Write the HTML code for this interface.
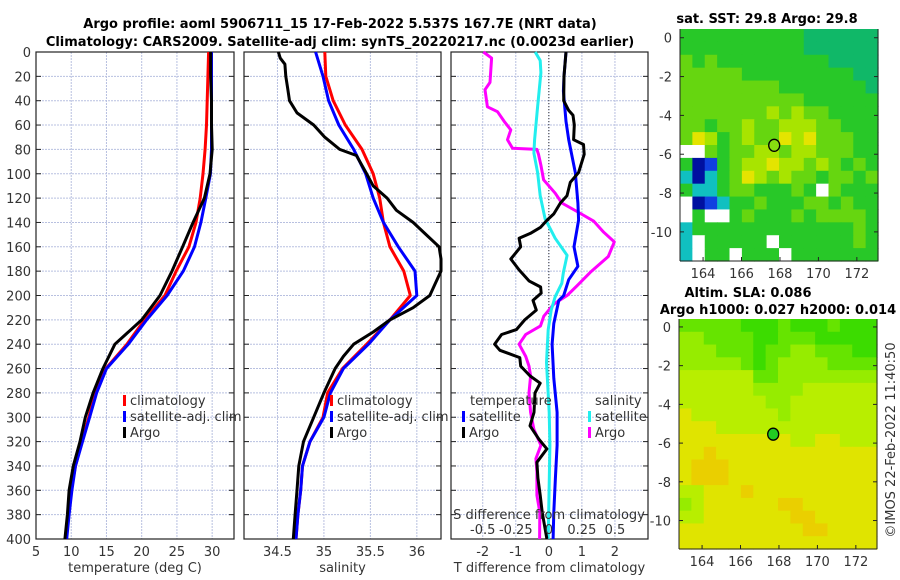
<!DOCTYPE html>
<html><head><meta charset="utf-8">
<style>
html,body{margin:0;padding:0;background:#fff;}
svg{display:block;font-family:"DejaVu Sans","Liberation Sans",sans-serif;}
.t{font-size:13px;fill:#333;}
.b{font-weight:bold;font-size:13px;fill:#000;}
</style></head>
<body>
<svg id="c" width="900" height="580" viewBox="0 0 900 580" xmlns="http://www.w3.org/2000/svg">
<text class="b" x="340" y="28" text-anchor="middle">Argo profile: aoml 5906711_15 17-Feb-2022 5.537S 167.7E (NRT data)</text>
<text class="b" x="340" y="46" text-anchor="middle">Climatology: CARS2009. Satellite-adj clim: synTS_20220217.nc (0.0023d earlier)</text>
<text class="b" x="767" y="23" text-anchor="middle">sat. SST: 29.8 Argo: 29.8</text>
<text class="b" x="748" y="297" text-anchor="middle">Altim. SLA: 0.086</text>
<text class="b" x="778" y="314" text-anchor="middle">Argo h1000: 0.027 h2000: 0.014</text>
<text class="t" transform="translate(895,440) rotate(-90)" text-anchor="middle">©IMOS 22-Feb-2022 11:40:50</text>
</svg>
<script>
// ---- data ----
const depthTicks=[0,20,40,60,80,100,120,140,160,180,200,220,240,260,280,300,320,340,360,380,400];
const tempTicks=[5,10,15,20,25,30];
const salTicks=[34.5,35,35.5,36];
const tdiffTicks=[-2,-1,0,1,2];
const sdiffTicks=[-0.5,-0.25,0,0.25,0.5];
const sdiffLabels=["-0.5","-0.25","0","0.25","0.5"];
const clDepth=[0,20,40,60,80,100,120,140,160,180,200,220,240,260,280,300,320,340,360,380,400];
const tempClim=[29.5,29.4,29.3,29.2,29.0,28.7,28.3,27.7,26.7,24.9,23.3,20.4,17.9,14.9,13.4,12.5,11.5,10.6,10.0,9.6,9.3];
const tempSat=[29.9,29.9,29.9,29.9,29.9,29.75,29.1,28.4,27.5,25.9,23.6,20.7,18.1,15.0,13.6,12.6,11.6,10.6,10.1,9.7,9.35];
const tempArgo=[29.8,29.8,29.9,29.9,30.0,29.7,28.9,27.3,25.8,24.3,22.6,20.0,16.2,14.5,13.1,12.0,11.25,10.3,9.7,9.45,9.1];
const salClim=[35.01,35.02,35.10,35.23,35.41,35.53,35.60,35.64,35.71,35.86,35.93,35.71,35.46,35.2,35.04,34.99,34.85,34.77,34.75,34.72,34.70];
const salSat=[34.91,34.99,35.05,35.16,35.32,35.45,35.53,35.64,35.80,35.98,36.0,35.71,35.48,35.21,35.07,35.0,34.85,34.77,34.75,34.72,34.70];
const argoSalDepth=[0,5,10,20,30,40,50,60,70,80,85,100,110,120,130,140,150,160,170,180,190,200,210,220,230,240,250,260,280,300,320,340,360,380,400];
const salArgo=[34.51,34.53,34.58,34.59,34.61,34.63,34.71,34.89,35.01,35.17,35.35,35.46,35.53,35.68,35.78,35.96,36.1,36.24,36.26,36.26,36.2,36.14,35.96,35.71,35.53,35.32,35.21,35.12,35.0,34.89,34.78,34.73,34.71,34.69,34.67];
const sArgoDiffDepth=[0,5,25,31,45,49,57,64,72,79,80,84,93,105,116,124,131,139,148,156,168,181,192,200,207,217,225,232,235,240,250,258,266,280,296,310,323,334,345,364,378,400];
const sArgoDiff=[-0.495,-0.433,-0.445,-0.483,-0.465,-0.388,-0.338,-0.288,-0.313,-0.275,-0.09,-0.078,-0.06,-0.04,0.048,0.098,0.213,0.34,0.415,0.495,0.45,0.313,0.213,0.138,0.038,-0.038,-0.063,-0.175,-0.193,-0.225,-0.175,-0.15,-0.138,-0.15,-0.138,-0.113,-0.06,-0.098,-0.09,-0.09,-0.068,-0.07];
const sSatDiffDepth=[0,7,17,45,72,83,99,118,137,153,167,181,190,201,212,228,255,296,323,400];
const sSatDiff=[-0.103,-0.065,-0.06,-0.085,-0.108,-0.113,-0.085,-0.065,-0.028,0.048,0.138,0.11,0.098,0.048,0.018,-0.005,-0.018,0.003,0.008,-0.005];
const tSatDiffDepth=[0,20,32,57,72,99,124,138,160,176,187,200,204,223,240,268,296,323,350,378,400];
const tSatDiff=[0.52,0.46,0.44,0.52,0.6,0.8,0.88,0.9,0.76,0.88,0.6,0.45,0.3,0.15,0.1,0.15,0.25,0.25,0.2,0.15,0.13];
const tArgoDiffDepth=[0,20,40,48,52,60,72,76,84,99,107,118,124,133,138,144,149,153,160,170,179,188,193,198,204,212,220,228,232,240,245,251,258,266,272,280,296,307,318,326,337,350,364,378,400];
const tArgoDiff=[0.52,0.46,0.45,0.6,0.73,0.77,0.75,1.05,1.07,0.9,0.65,0.55,0.35,0.15,-0.05,-0.25,-0.56,-0.9,-0.85,-1.15,-0.9,-0.6,-0.25,-0.23,-0.48,-0.38,-0.73,-0.98,-1.43,-1.64,-1.48,-0.88,-0.85,-0.57,-0.26,-0.42,-0.45,-0.57,-0.3,-0.06,-0.36,-0.33,-0.26,-0.2,-0.06];
const lonTicks=[164,166,168,170,172];
const latTicks=[0,-2,-4,-6,-8,-10];
const argoLon=167.7, argoLat=-5.54;
const sstGrid=[
"ggggggggggtttttt","ggggggggggtttttt","GgGgggggggggtttt","GGGGGgggggggggtt",
"GGGGGGGGgggggggt","GGGGGGGGGGgggggg","GGGGGGGyGyGGgggg","GGgGGyGGyyyGGggg",
"GYygGyGGYyYGGGgg","wwGgGGyyGyyGGGgg","gbBgGyyYyyGyGgGg","cbcgGYyGyGGgGGgG",
"gccgGGgggGgwGggg","wbBcggGgggGGgGgg","wgwwgGgggGgGGGGg","cgggggggggggggGg",
"cwgggggwggggggGg","cwggwgggwggggggg"];
const slaGrid=[
"2222211121112111","3322221122211111","3332221223322211","3333321233332222",
"4444442233333333","4444443333444444","4444444334444444","5444444434444444",
"5554444444444444","5555555554455444","5565555555555555","5666555555555555",
"5666555555555555","4455565555555555","3455555566555555","4455555556655555",
"5555555555665555","5555555555555555"];
const sstColors={g:"#28c828",t:"#10b868",G:"#66d610",y:"#a8e400",Y:"#e4e400",b:"#0010a0",B:"#1040e0",c:"#10c0c0",w:"#ffffff"};
const slaColors={"1":"#3cdc00","2":"#66e400","3":"#96ec00","4":"#b8ee00","5":"#e0e400","6":"#eacf00"};

// ---- drawing ----
const svg=document.getElementById('c');
const NS="http://www.w3.org/2000/svg";
function mk(tag,attrs,parent){const e=document.createElementNS(NS,tag);for(const k in attrs)e.setAttribute(k,attrs[k]);(parent||svg).appendChild(e);return e;}
const Y0=52,Y1=539;
function yD(d){return Y0+d*(Y1-Y0)/400;}

function panel(name,x0,x1,dmin,dmax,ticks,labels,xlabel,showY){
  const g=mk('g',{});
  
  
  const sx=v=>x0+(v-dmin)*(x1-x0)/(dmax-dmin);
  depthTicks.forEach(d=>{
    const l=mk('line',{x1:x0,x2:x1,y1:yD(d),y2:yD(d),stroke:'#b8c0e0','stroke-width':1,'stroke-dasharray':'2,1'},g);
    
    
    mk('line',{x1:x0,x2:x0+5,y1:yD(d),y2:yD(d),stroke:'#222'},g);
    mk('line',{x1:x1-5,x2:x1,y1:yD(d),y2:yD(d),stroke:'#222'},g);
    if(showY){const t=mk('text',{x:x0-5,y:yD(d)+5,'text-anchor':'end',class:'t'},g);t.textContent=d;
      
      }
  });
  ticks.forEach((v,i)=>{
    const x=sx(v);
    const l=mk('line',{x1:x,x2:x,y1:Y0,y2:Y1,stroke:'#b8c0e0','stroke-width':1,'stroke-dasharray':'2,1'},g);
    
    
    const t=mk('text',{x:x,y:556,'text-anchor':'middle',class:'t'},g);t.textContent=labels?labels[i]:v;
    
    
  });
  const r=mk('rect',{x:x0,y:Y0,width:x1-x0,height:Y1-Y0,fill:'none',stroke:'#222','stroke-width':1.2},g);
  
  
  const xt=mk('text',{x:(x0+x1)/2,y:572,'text-anchor':'middle',class:'t'},g);xt.textContent=xlabel;
  
  
  return {g,sx};
}
function line(p,vals,depths,color,name,scale){
  const pts=vals.map((v,i)=>p.sx(v*(scale||1)).toFixed(1)+','+yD(depths[i]).toFixed(1)).join(' ');
  const e=mk('polyline',{points:pts,fill:'none',stroke:color,'stroke-width':3,'stroke-linejoin':'round'},p.g);
  
  
}
function legend(p,x,y,color,label,name){
  mk('rect',{x:x,y:y-10,width:3,height:11,fill:color},p.g);
  const t=mk('text',{x:x+7,y:y,class:'t'},p.g);t.textContent=label;
  
  
}

const p1=panel('temperature',36,234,5,33.1,tempTicks,null,'temperature (deg C)',true);
line(p1,tempClim,clDepth,'#ff0000','temp-climatology-line');
line(p1,tempSat,clDepth,'#0000ff','temp-satellite-line');
line(p1,tempArgo,clDepth,'#000000','temp-argo-line');
legend(p1,123,405,'#ff0000','climatology','legend-climatology');
legend(p1,123,421,'#0000ff','satellite-adj. clim','legend-satellite-adj');
legend(p1,123,437,'#000000','Argo','legend-argo');

const p2=panel('salinity',244,441,34.14,36.26,salTicks,null,'salinity',false);
line(p2,salClim,clDepth,'#ff0000','sal-climatology-line');
line(p2,salSat,clDepth,'#0000ff','sal-satellite-line');
line(p2,salArgo,argoSalDepth,'#000000','sal-argo-line');
legend(p2,330,405,'#ff0000','climatology','legend-climatology-sal');
legend(p2,330,421,'#0000ff','satellite-adj. clim','legend-satellite-adj-sal');
legend(p2,330,437,'#000000','Argo','legend-argo-sal');

const p3=panel('difference',451,648,-2.96,3.0,tdiffTicks,null,'T difference from climatology',false);
const zl=mk('line',{x1:p3.sx(0),x2:p3.sx(0),y1:Y0,y2:Y1,stroke:'#333','stroke-width':1,'stroke-dasharray':'1,2'},p3.g);


line(p3,sArgoDiff,sArgoDiffDepth,'#ff00ff','sal-argo-diff-line',4);
line(p3,sSatDiff,sSatDiffDepth,'#22eeee','sal-satellite-diff-line',4);
line(p3,tSatDiff,tSatDiffDepth,'#0000ff','temp-satellite-diff-line');
line(p3,tArgoDiff,tArgoDiffDepth,'#000000','temp-argo-diff-line');
{const t=mk('text',{x:470,y:405,class:'t'},p3.g);t.textContent='temperature';


const s=mk('text',{x:595,y:405,class:'t'},p3.g);s.textContent='salinity';

}
legend(p3,462,421,'#0000ff','satellite','legend-temp-satellite');
legend(p3,462,437,'#000000','Argo','legend-temp-argo');
legend(p3,588,421,'#22eeee','satellite','legend-sal-satellite');
legend(p3,588,437,'#ff00ff','Argo','legend-sal-argo');
{const t=mk('text',{x:549,y:519,'text-anchor':'middle',class:'t'},p3.g);t.textContent='S difference from climatology';


sdiffTicks.forEach((v,i)=>{const l=mk('text',{x:p3.sx(v*4),y:534,'text-anchor':'middle',class:'t'},p3.g);l.textContent=sdiffLabels[i];

});}

function map(name,x0,x1,y0,y1,lon0,lon1,lat0,lat1,grid,colors,dotColor){
  const g=mk('g',{});
  
  
  const rows=grid.length, cols=grid[0].length;
  const cw=(x1-x0)/cols, ch=(y1-y0)/rows;
  grid.forEach((row,r)=>{[...row].forEach((c,k)=>{
    const cell=mk('rect',{x:(x0+k*cw).toFixed(2),y:(y0+r*ch).toFixed(2),width:(cw+0.6).toFixed(2),height:(ch+0.6).toFixed(2),fill:colors[c]},g);
    
    
  });});
  const sx=v=>x0+(v-lon0)*(x1-x0)/(lon1-lon0);
  const sy=v=>y0+(lat0-v)*(y1-y0)/(lat0-lat1);
  mk('line',{x1:x0,x2:x0,y1:y0,y2:y1,stroke:'#222'},g);
  mk('line',{x1:x0,x2:x1,y1:y1,y2:y1,stroke:'#222'},g);
  mk('line',{x1:x1,x2:x1,y1:y0,y2:y1,stroke:'#222'},g);
  lonTicks.forEach(v=>{const t=mk('text',{x:sx(v),y:y1+17,'text-anchor':'middle',class:'t'},g);t.textContent=v;
    
    
    mk('line',{x1:sx(v),x2:sx(v),y1:y1,y2:y1-4,stroke:'#222'},g);});
  latTicks.forEach(v=>{const t=mk('text',{x:x0-8,y:sy(v)+5,'text-anchor':'end',class:'t'},g);t.textContent=v;
    
    
    mk('line',{x1:x0,x2:x0+4,y1:sy(v),y2:sy(v),stroke:'#222'},g);
    mk('line',{x1:x1-4,x2:x1,y1:sy(v),y2:sy(v),stroke:'#222'},g);});
  const c=mk('ellipse',{cx:sx(argoLon),cy:sy(argoLat),rx:5.5,ry:6,fill:dotColor,stroke:'#000','stroke-width':1.3},g);
  
  
}
map('sst-map',680,878,29,261,162.8,173.1,0.45,-11.5,sstGrid,sstColors,'#88dd10');
map('sla-map',679,877,319,549,162.8,173.1,0.41,-11.47,slaGrid,slaColors,'#22cc22');
</script>
</body></html>
